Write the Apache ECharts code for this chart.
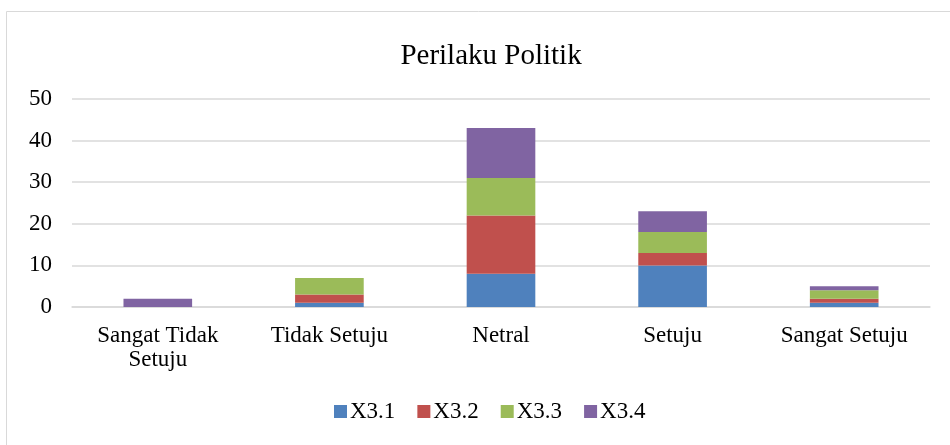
<!DOCTYPE html>
<html>
<head>
<meta charset="utf-8">
<script src="https://cdn.jsdelivr.net/npm/echarts@6/dist/echarts.min.js"></script>
<style>
  html, body { margin: 0; padding: 0; background: #fff; }
  #chart { width: 950px; height: 445px; }
</style>
</head>
<body>
<div id="chart"></div>
<script>
// kategori jawaban
var categories = ['Sangat Tidak\nSetuju', 'Tidak Setuju', 'Netral', 'Setuju', 'Sangat Setuju'];
// nilai tiap indikator
var x31 = [0, 1, 8, 10, 1];
var x32 = [0, 2, 14, 3, 1];
var x33 = [0, 4, 9, 5, 2];
var x34 = [2, 0, 12, 5, 1];
var seriesNames = ['X3.1', 'X3.2', 'X3.3', 'X3.4'];
var colors = ['#4f81bd', '#c0504d', '#9bbb59', '#8064a2'];

var font = '"Liberation Serif", "Times New Roman", serif';
var myChart = echarts.init(document.getElementById('chart'));

var allData = [x31, x32, x33, x34];
var series = [];
for (var i = 0; i < allData.length; i++) {
  series.push({
    name: seriesNames[i],
    type: 'bar',
    stack: 'total',
    barWidth: '40%',
    itemStyle: { color: colors[i] },
    data: allData[i]
  });
}

var option = {
  animation: false,
  color: colors,
  graphic: [{
    type: 'rect',
    shape: { x: 6.5, y: 11.5, width: 1000, height: 1000 },
    style: { fill: 'none', stroke: '#d9d9d9', lineWidth: 1 },
    silent: true
  }],
  title: {
    text: 'Perilaku Politik',
    left: 486,
    textAlign: 'center',
    top: 37,
    textStyle: { fontFamily: font, fontSize: 29, fontWeight: 'normal', color: '#000' }
  },
  legend: {
    bottom: 17,
    left: 329,
    padding: 5,
    itemWidth: 13,
    itemHeight: 13,
    itemGap: 22,
    icon: 'rect',
    textStyle: { fontFamily: font, fontSize: 23, color: '#000', padding: [0, 0, 0, -2] },
    data: seriesNames
  },
  grid: {
    left: 72,
    right: 20,
    top: 99,
    bottom: 138
  },
  xAxis: {
    type: 'category',
    data: categories,
    axisTick: { show: false },
    axisLine: { lineStyle: { color: '#d9d9d9', width: 1.5 } },
    axisLabel: {
      fontFamily: font, fontSize: 23, color: '#000',
      lineHeight: 24, margin: 17, interval: 0
    }
  },
  yAxis: {
    type: 'value',
    min: 0,
    max: 50,
    interval: 10,
    axisLine: { show: false },
    axisTick: { show: false },
    splitLine: { lineStyle: { color: '#d9d9d9', width: 1.5 } },
    axisLabel: { fontFamily: font, fontSize: 23, color: '#000', margin: 20 }
  },
  series: series
};
myChart.setOption(option);
</script>
</body>
</html>
